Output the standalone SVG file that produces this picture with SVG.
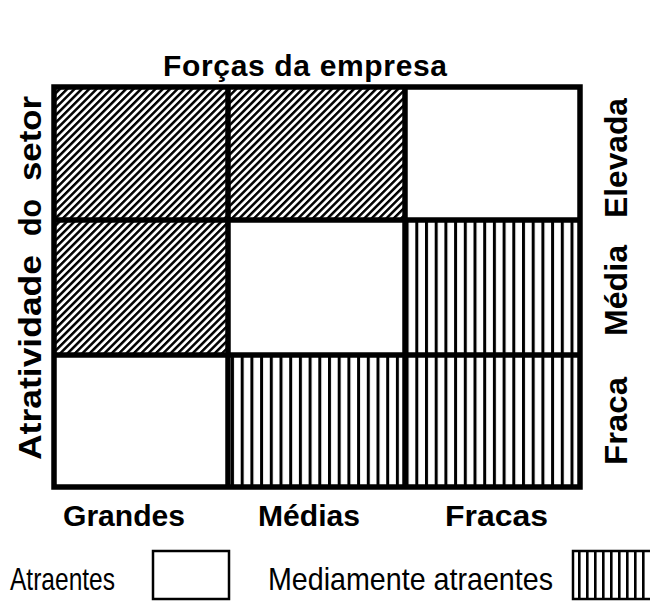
<svg xmlns="http://www.w3.org/2000/svg" width="650" height="601" viewBox="0 0 650 601">
<style>
.lbl{font-family:"Liberation Sans",Arial,sans-serif;font-weight:bold;fill:#000}
.leg{font-family:"Liberation Sans",Arial,sans-serif;fill:#000}
.cell{stroke:none}
.grid{fill:none;stroke:#000;stroke-width:5.5}
</style>
<defs>
<pattern id="diag" patternUnits="userSpaceOnUse" width="5.2" height="5.2" patternTransform="rotate(45)">
<rect x="0" y="0" width="5.2" height="5.2" fill="#fff"/>
<rect x="0" y="0" width="2.5" height="5.2" fill="#000"/>
</pattern>
<pattern id="vert" patternUnits="userSpaceOnUse" width="9.7" height="10" x="231">
<rect x="0" y="0" width="9.7" height="10" fill="#fff"/>
<rect x="0" y="0" width="3" height="10" fill="#000"/>
</pattern>
<pattern id="vertleg" patternUnits="userSpaceOnUse" width="8" height="10" x="578">
<rect x="0" y="0" width="8" height="10" fill="#fff"/>
<rect x="0" y="0" width="2.6" height="10" fill="#000"/>
</pattern>
</defs>
<rect width="650" height="601" fill="#fff"/>
<text class="lbl" x="163" y="76" font-size="30" textLength="284" lengthAdjust="spacing">Forças da empresa</text>
<g id="cell-r1c1"><rect class="cell" x="54" y="87" width="174" height="133" fill="url(#diag)"/></g>
<g id="cell-r1c2"><rect class="cell" x="228" y="87" width="177" height="133" fill="url(#diag)"/></g>
<g id="cell-r1c3"><rect class="cell" x="405" y="87" width="175" height="133" fill="#fff"/></g>
<g id="cell-r2c1"><rect class="cell" x="54" y="220" width="174" height="135" fill="url(#diag)"/></g>
<g id="cell-r2c2"><rect class="cell" x="228" y="220" width="177" height="135" fill="#fff"/></g>
<g id="cell-r2c3"><rect class="cell" x="405" y="220" width="175" height="135" fill="url(#vert)"/></g>
<g id="cell-r3c1"><rect class="cell" x="54" y="355" width="174" height="132" fill="#fff"/></g>
<g id="cell-r3c2"><rect class="cell" x="228" y="355" width="177" height="132" fill="url(#vert)"/></g>
<g id="cell-r3c3"><rect class="cell" x="405" y="355" width="175" height="132" fill="url(#vert)"/></g>
<g id="grid">
<rect class="grid" x="54" y="87" width="526" height="400"/>
<line class="grid" x1="228" y1="87" x2="228" y2="487"/>
<line class="grid" x1="405" y1="87" x2="405" y2="487"/>
<line class="grid" x1="54" y1="220" x2="580" y2="220"/>
<line class="grid" x1="54" y1="355" x2="580" y2="355"/>
</g>
<g transform="translate(41,460) rotate(-90)">
<text class="lbl" x="0" y="0" font-size="32" textLength="205" lengthAdjust="spacingAndGlyphs">Atratividade</text>
<text class="lbl" x="224" y="0" font-size="32" textLength="37" lengthAdjust="spacingAndGlyphs">do</text>
<text class="lbl" x="279" y="0" font-size="32" textLength="85" lengthAdjust="spacingAndGlyphs">setor</text>
</g>
<text class="lbl" x="0" y="0" font-size="31" transform="translate(627,218) rotate(-90)" textLength="120" lengthAdjust="spacingAndGlyphs">Elevada</text>
<text class="lbl" x="0" y="0" font-size="31" transform="translate(627,336) rotate(-90)" textLength="91" lengthAdjust="spacingAndGlyphs">Média</text>
<text class="lbl" x="0" y="0" font-size="31" transform="translate(627,465) rotate(-90)" textLength="88" lengthAdjust="spacingAndGlyphs">Fraca</text>
<text class="lbl" x="63" y="526" font-size="29" textLength="122" lengthAdjust="spacingAndGlyphs">Grandes</text>
<text class="lbl" x="258" y="526" font-size="29" textLength="102" lengthAdjust="spacingAndGlyphs">Médias</text>
<text class="lbl" x="445" y="526" font-size="29" textLength="103" lengthAdjust="spacingAndGlyphs">Fracas</text>
<g id="legend-atraentes">
<text class="leg" x="10" y="590" font-size="32" textLength="105" lengthAdjust="spacingAndGlyphs">Atraentes</text>
<rect x="153" y="551" width="76" height="48" fill="#fff" stroke="#000" stroke-width="2.5"/>
</g>
<g id="legend-mediamente">
<text class="leg" x="268" y="590" font-size="32" textLength="285" lengthAdjust="spacingAndGlyphs">Mediamente atraentes</text>
<rect x="573" y="551" width="90" height="48" fill="url(#vertleg)" stroke="#000" stroke-width="2.5"/>
</g>
</svg>
